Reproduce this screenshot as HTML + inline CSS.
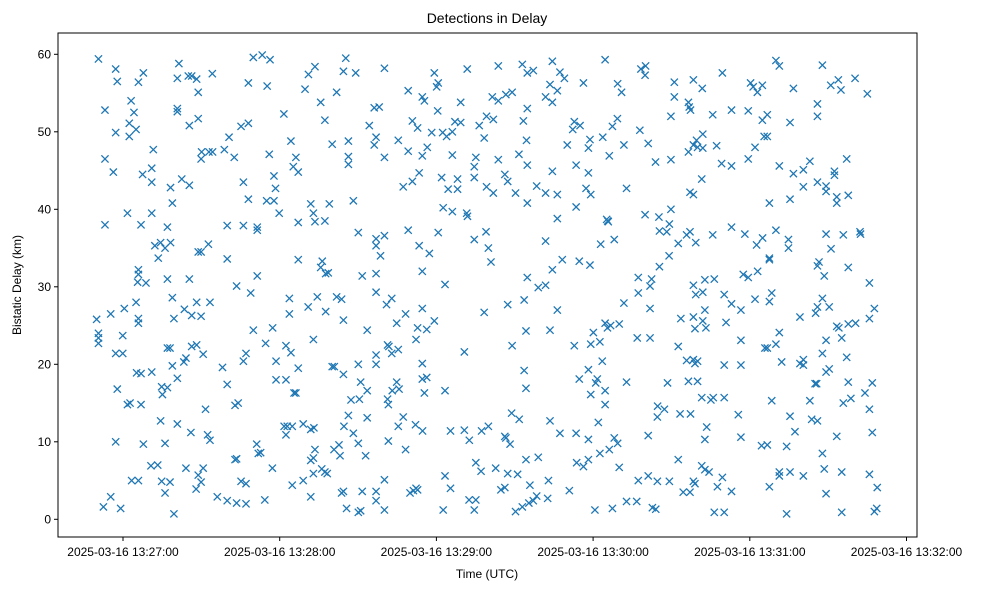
<!DOCTYPE html>
<html><head><meta charset="utf-8"><style>
body{margin:0;background:#fff;}
svg{display:block;font-family:"Liberation Sans",sans-serif;}
</style></head><body>
<svg id="chart" width="989" height="590">
<rect x="0" y="0" width="989" height="590" fill="#fff"/>
<text x="487" y="23" text-anchor="middle" font-size="14" fill="#000">Detections in Delay</text>
<g id="marks"></g>
<rect x="58" y="33" width="859" height="504" fill="none" stroke="#000" stroke-width="1"/>
<g id="xaxis"></g>
<g id="yaxis"></g>
<text x="487" y="578" text-anchor="middle" font-size="12">Time (UTC)</text>
<text x="0" y="0" transform="translate(21,285) rotate(-90)" text-anchor="middle" font-size="12">Bistatic Delay (km)</text>
</svg>
<script>
// seconds after 2025-03-16 13:26:00 UTC
const timesSec = [
50.6,57.2,57.8,67.8,65.9,81.4,80.8,85.0,86.3,88.2,88.8,94.2,109.9,113.3,116.3,108.0,115.2,63.1,53.1,64.2,80.8,80.8,88.8,85.4,62.4,65.0,57.2,62.4,105.2,108.0,100.6,121.6,124.3,
71.6,53.1,56.3,67.5,71.0,71.0,78.2,82.5,85.4,78.9,90.1,89.9,92.9,94.3,98.8,102.6,116.0,117.8,118.4,106.1,108.0,115.0,117.8,119.8,125.2,
61.7,71.0,53.1,66.9,77.0,99.9,106.1,111.4,111.4,72.2,74.4,78.2,76.1,73.5,88.8,89.9,92.7,99.9,
65.9,65.9,65.6,68.8,77.0,85.4,103.5,108.9,111.4,123.7,123.7,
49.9,55.3,60.5,65.0,65.9,65.9,78.9,83.5,86.3,88.2,93.3,79.5,89.9,
50.6,50.6,50.6,59.9,57.2,59.9,77.0,78.0,78.9,83.3,84.1,86.3,88.2,90.7,98.1,99.9,106.1,107.1,109.9,114.6,117.3,118.6,122.4,124.3,
57.8,61.7,62.7,66.9,65.2,66.9,71.0,74.8,75.1,77.0,80.8,102.9,104.1,91.6,118.6,122.4,125.5,
74.4,80.8,86.0,92.4,93.3,57.2,67.8,76.1,111.2,111.8,112.7,121.7,122.9,122.4,124.8,
70.7,73.3,84.1,90.7,88.8,89.9,88.0,102.9,103.5,117.2,63.3,65.9,74.8,78.0,76.1,105.2,107.1,124.8,
52.5,55.3,59.1,79.5,96.1,99.9,103.5,107.1,114.3,
145.3,133.5,131.0,144.4,149.1,160.1,179.2,191.8,203.7,212.9,214.8,
129.7,141.8,135.7,137.3,156.2,158.1,169.2,174.6,175.4,180.1,180.7,189.3,180.5,201.4,203.7,206.6,209.0,214.8,
154.3,156.9,156.2,140.1,146.3,165.4,170.8,172.8,178.2,182.4,183.9,186.1,187.1,189.3,196.4,199.2,201.8,213.3,198.3,214.5,
126.2,127.1,146.3,146.3,160.1,169.2,174.6,176.5,186.1,195.1,194.5,203.7,211.6,214.8,
167.3,170.8,173.4,182.0,184.5,188.1,188.1,194.5,199.2,201.8,206.2,207.3,210.3,214.8,
131.9,139.0,148.2,132.9,133.5,137.3,127.1,182.6,186.1,191.6,191.9,
150.1,156.9,156.9,160.1,158.6,169.2,180.7,173.4,177.3,194.5,199.0,199.9,200.9,
127.1,136.3,135.7,137.6,138.6,151.6,156.9,174.6,183.3,214.8,
130.9,134.4,137.6,141.8,143.7,144.4,156.9,160.9,162.9,164.8,168.2,153.5,172.8,176.3,179.2,174.6,198.3,207.3,213.6,214.3,
132.9,161.3,161.8,162.9,165.4,156.9,156.9,172.2,190.7,209.0,
127.1,140.1,140.9,144.4,150.1,151.0,153.5,147.3,150.5,161.3,161.6,163.1,164.8,165.7,174.6,174.6,176.3,175.4,183.3,213.6,214.3,126.2,
129.0,131.9,133.1,144.6,146.3,148.2,150.1,153.5,152.9,161.6,165.4,167.3,168.2,172.0,174.7,185.4,190.7,192.6,197.3,199.9,206.2,206.6,208.2,208.8,211.7,
131.9,132.9,133.5,132.9,136.1,137.3,138.2,140.8,142.7,143.1,129.0,
143.7,144.4,151.6,156.9,160.1,156.9,160.1,145.6,150.1,151.0,131.9,169.9,171.2,172.2,172.8,183.3,185.4,182.6,195.1,197.1,202.7,207.3,211.1,214.3,192.5,195.1,194.5,204.7,206.2,210.3,212.9,215.4,
224.4,244.6,227.3,229.0,217.1,258.3,260.1,259.9,236.3,223.5,226.3,221.8,224.4,249.4,250.9,271.1,271.1,278.4,281.8,289.5,276.5,276.8,277.3,285.8,293.0,299.4,300.3,301.3,302.9,304.8,304.8,
232.8,232.2,235.0,238.8,238.2,243.7,247.4,249.3,246.2,251.8,230.1,257.9,261.1,263.9,269.8,269.8,276.5,279.6,278.4,280.0,282.0,282.0,287.3,289.2,293.0,299.4,302.0,305.5,
218.4,221.8,226.3,224.4,233.5,238.2,237.3,239.1,233.5,226.3,252.8,281.6,277.1,278.4,245.2,245.8,245.6,259.9,265.2,269.8,265.4,268.2,269.2,272.6,275.8,277.1,279.3,285.8,293.0,298.1,302.6,304.9,
221.8,242.9,248.1,228.2,224.4,234.7,238.8,219.0,221.8,226.3,269.1,265.4,257.3,262.4,261.8,257.3,261.8,251.8,278.4,279.3,282.0,282.8,286.4,290.2,293.0,296.6,302.0,297.5,299.4,303.0,
223.5,232.8,239.1,240.1,242.6,244.6,245.5,246.7,250.0,256.9,261.8,273.6,278.4,279.0,282.0,283.2,282.8,290.9,272.6,296.6,305.8,
238.2,234.7,241.6,241.0,243.5,239.1,244.6,244.6,252.8,268.5,275.8,278.4,279.0,280.0,276.5,280.0,290.2,296.6,281.6,286.0,285.1,290.2,264.7,267.3,264.6,273.3,277.3,295.6,
223.5,227.3,233.5,238.2,242.0,242.6,246.2,248.1,249.4,250.0,233.7,236.3,238.2,219.0,261.1,272.6,283.5,282.8,296.6,304.5,
215.8,222.9,218.4,217.1,222.6,230.9,257.3,261.1,264.6,269.2,278.4,279.0,281.6,282.8,284.4,274.5,277.1,287.6,289.5,293.0,240.7,247.4,252.8,256.7,262.7,264.0,286.4,290.2,
310.0,311.3,327.8,316.7,331.0,333.9,334.9,340.3,345.0,325.9,325.9,315.4,306.7,306.7,311.3,316.7,320.5,323.0,325.9,329.2,329.2,332.4,332.4,333.3,333.3,337.7,337.1,320.5,315.4,307.5,
310.0,314.8,314.8,307.5,307.5,329.2,331.1,335.8,342.2,342.4,325.9,326.5,328.5,337.7,345.8,
308.4,307.5,319.2,325.9,327.8,325.2,330.4,347.7,345.8,333.3,334.1,337.7,340.5,311.3,310.0,306.7,329.2,335.2,327.8,337.1,312.2,319.2,320.5,320.5,329.2,330.4,325.0,325.6,337.7,346.9,344.1,338.7,335.8,345.8,308.4,323.0,
315.4,317.3,323.7,325.9,333.3,346.9,306.7,314.1,327.8,311.3,311.3,315.4,320.5,328.5,335.2,345.8,307.5,329.2,348.8,314.1,335.2,347.7,348.6
];
// bistatic delay in km, same order
const delaysKm = [
59.4,58.1,56.5,57.6,56.4,58.8,56.9,57.2,57.2,56.8,55.1,57.5,59.6,59.9,59.3,56.3,55.9,54.0,52.8,52.5,53.0,52.6,51.7,50.8,51.1,50.3,49.9,49.4,50.7,51.1,49.3,52.3,48.8,
47.7,46.5,44.8,44.5,45.3,43.5,42.8,43.9,43.1,40.8,47.4,46.5,47.4,47.4,47.7,46.7,47.1,44.3,42.7,43.5,41.3,41.1,41.1,39.5,45.5,
39.5,39.5,38.0,38.0,37.7,37.9,37.9,37.7,37.3,35.3,35.7,35.7,35.0,33.7,34.5,34.5,35.5,33.6,
32.2,31.6,30.6,30.5,31.0,31.0,30.1,29.2,31.4,28.5,26.5,
25.8,26.5,27.2,28.0,25.9,25.3,28.6,27.1,26.3,28.0,28.0,25.9,26.2,
24.0,23.4,22.7,23.7,21.4,21.4,22.1,22.1,19.8,20.3,20.8,22.3,22.5,21.3,19.6,17.4,20.4,21.4,24.4,22.7,24.7,20.4,22.4,21.5,
16.8,14.8,15.0,14.8,18.9,18.8,19.0,17.1,16.1,17.0,18.2,14.7,15.0,14.2,18.0,18.0,16.3,
12.7,12.3,11.2,10.9,10.2,10.0,9.7,9.8,9.7,8.5,8.6,12.0,12.0,10.9,12.0,
6.9,7.0,6.6,6.6,5.7,4.8,3.9,7.7,7.8,6.6,5.0,5.0,4.9,4.8,3.4,4.9,4.6,4.4,
1.6,2.9,1.4,0.7,2.9,2.4,2.1,2.0,2.5,
59.5,58.4,57.4,57.8,57.6,58.2,57.6,58.1,58.5,58.7,57.6,
55.5,55.1,53.8,51.5,53.1,53.2,55.3,54.5,54.0,55.8,56.3,53.8,52.7,54.5,54.0,54.8,55.1,53.0,
50.8,49.3,48.3,48.4,48.8,48.9,51.4,50.5,49.9,49.9,49.4,50.0,51.3,51.2,50.8,52.0,51.6,51.4,49.2,48.9,
46.7,44.8,46.8,45.8,46.7,47.5,46.9,48.0,47.0,46.7,45.5,46.4,47.1,45.7,
42.9,43.6,44.7,44.1,42.6,42.6,43.9,44.1,42.9,42.1,44.5,43.6,42.1,40.8,
40.7,40.7,41.1,39.5,38.4,38.5,38.3,40.2,39.7,39.5,39.1,
37.0,36.2,35.3,36.6,34.0,37.3,37.0,35.3,34.3,36.1,37.1,35.0,33.2,
33.5,33.3,32.5,31.7,31.8,31.4,31.7,32.0,30.3,31.2,
27.4,28.7,26.8,28.7,28.4,25.7,29.3,27.7,28.5,25.3,26.5,24.4,24.7,24.5,25.6,27.2,26.7,27.7,28.3,24.3,
23.2,22.5,22.3,21.4,21.9,21.2,20.0,23.2,21.6,22.4,
19.5,19.7,19.7,18.7,20.0,17.7,16.6,15.4,15.5,15.5,14.8,16.6,17.7,16.8,20.1,18.1,18.3,16.3,16.6,19.2,16.9,16.3,
12.3,11.6,11.8,12.0,13.4,11.1,9.8,13.1,8.2,10.1,12.0,13.2,9.0,12.2,11.4,11.4,11.5,10.2,11.4,12.0,10.7,10.5,9.7,13.7,12.9,
7.6,7.9,9.0,5.9,6.5,6.1,5.9,9.0,9.6,8.2,5.0,
3.4,3.6,3.6,3.6,5.1,2.4,1.2,1.4,0.9,1.1,2.9,3.4,3.7,4.0,3.8,5.6,4.0,1.2,7.3,6.2,6.6,5.9,5.8,7.7,2.5,2.5,1.2,3.8,4.1,1.0,1.6,2.1,
59.1,59.3,57.7,56.9,57.9,58.1,58.5,57.3,56.3,56.1,55.3,54.5,53.8,56.2,55.1,56.4,54.5,56.7,55.6,57.6,53.8,53.2,52.8,52.2,52.8,52.7,56.3,55.8,55.1,56.0,51.5,
51.3,50.3,50.8,49.0,47.9,49.3,50.7,51.7,46.9,48.3,48.3,50.2,48.5,46.1,46.4,52.0,47.4,48.9,48.3,48.0,49.7,47.9,48.2,45.9,45.6,46.5,48.0,49.4,
43.0,42.1,41.9,44.9,45.7,44.7,42.7,41.9,40.3,38.8,42.7,43.9,42.2,41.9,38.7,38.4,38.5,39.3,39.0,40.0,37.2,37.1,38.1,35.6,36.7,37.1,35.7,36.7,37.7,36.8,35.4,36.3,
35.9,35.5,36.1,33.5,32.2,33.3,32.8,29.9,30.2,27.0,34.0,32.6,31.2,31.0,30.1,29.2,27.2,27.9,30.2,29.0,29.3,30.9,31.0,29.0,27.8,27.0,28.4,31.6,31.2,32.0,
24.4,22.4,22.6,24.1,22.9,25.3,24.7,25.0,25.2,23.4,23.4,25.9,26.1,24.6,25.6,24.7,27.0,25.4,22.3,23.1,22.1,
19.3,18.1,18.1,17.6,20.4,16.1,16.6,14.8,17.7,17.6,20.5,20.6,20.1,20.4,17.8,17.8,19.9,19.9,15.7,15.7,15.4,15.7,14.6,14.2,13.2,13.6,13.6,13.5,
12.7,11.1,11.1,10.3,12.5,8.5,9.0,10.5,9.8,6.7,7.3,6.8,7.7,8.0,10.8,7.7,11.9,10.3,10.6,9.5,
4.4,5.0,3.0,2.4,2.7,3.7,5.0,5.6,4.9,4.9,4.9,4.6,6.9,6.4,6.1,3.5,3.5,4.2,5.4,3.6,1.2,1.4,2.3,2.3,1.5,1.3,0.9,0.9,
59.2,58.5,58.6,55.6,56.0,56.7,55.4,56.9,54.9,53.6,52.0,51.2,52.2,49.4,45.6,44.6,45.1,46.2,43.5,43.0,42.3,44.9,44.4,41.6,40.8,41.8,46.5,42.9,41.3,40.8,
37.3,36.1,35.0,33.7,33.5,36.8,34.9,36.7,37.1,36.8,32.7,33.2,31.4,32.5,30.5,
29.2,28.1,26.1,27.4,28.5,26.6,27.4,27.2,25.9,24.9,24.7,25.2,25.3,24.1,22.6,22.1,23.1,23.4,21.4,20.9,20.3,20.1,20.6,19.9,19.0,19.4,17.5,17.5,17.7,17.6,16.3,15.6,15.0,14.2,15.3,15.3,
13.3,11.3,12.9,12.7,10.7,11.2,9.6,9.4,8.5,6.1,5.6,6.1,5.6,6.5,6.1,5.8,4.2,3.3,4.1,0.7,0.9,1.0,1.4
];
const yTicks = [0,10,20,30,40,50,60];
const xTicksSec = [60,120,180,240,300,360];
const xTickLabels = ["2025-03-16 13:27:00","2025-03-16 13:28:00","2025-03-16 13:29:00","2025-03-16 13:30:00","2025-03-16 13:31:00","2025-03-16 13:32:00"];

const NS = "http://www.w3.org/2000/svg";
function xScale(s){ return 123 + (s - 60) * 156.7 / 60; }
function yScale(k){ return 519.3 - k * 7.75; }

const marks = document.getElementById("marks");
const n = Math.min(timesSec.length, delaysKm.length);
for (let i = 0; i < n; i++) {
  const cx = xScale(timesSec[i]), cy = yScale(delaysKm[i]), r = 3.6;
  const p = document.createElementNS(NS, "path");
  p.setAttribute("d", `M${cx-r},${cy-r}L${cx+r},${cy+r}M${cx-r},${cy+r}L${cx+r},${cy-r}`);
  p.setAttribute("stroke", "#1f77b4");
  p.setAttribute("stroke-width", "1.3");
  p.setAttribute("fill", "none");
  
  
  marks.appendChild(p);
}

const xa = document.getElementById("xaxis");
xTicksSec.forEach((s, i) => {
  const x = xScale(s);
  const t = document.createElementNS(NS, "line");
  t.setAttribute("x1", x); t.setAttribute("x2", x); t.setAttribute("y1", 537); t.setAttribute("y2", 541);
  t.setAttribute("stroke", "#000");
  
  
  xa.appendChild(t);
  const l = document.createElementNS(NS, "text");
  l.setAttribute("x", x); l.setAttribute("y", 556);
  l.setAttribute("text-anchor", "middle"); l.setAttribute("font-size", "12");
  l.textContent = xTickLabels[i];
  
  
  xa.appendChild(l);
});

const ya = document.getElementById("yaxis");
yTicks.forEach(v => {
  const y = yScale(v);
  const t = document.createElementNS(NS, "line");
  t.setAttribute("x1", 54); t.setAttribute("x2", 58); t.setAttribute("y1", y); t.setAttribute("y2", y);
  t.setAttribute("stroke", "#000");
  
  
  ya.appendChild(t);
  const l = document.createElementNS(NS, "text");
  l.setAttribute("x", 51); l.setAttribute("y", y + 4);
  l.setAttribute("text-anchor", "end"); l.setAttribute("font-size", "12");
  l.textContent = v;
  
  
  ya.appendChild(l);
});
</script>
</body></html>
